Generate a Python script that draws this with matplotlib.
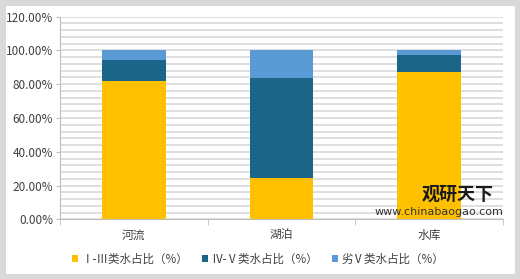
import matplotlib
matplotlib.use("Agg")
import matplotlib.pyplot as plt
from matplotlib.patches import Rectangle
import numpy as np

plt.rcParams['font.family'] = ['Noto Sans CJK SC', 'DejaVu Sans']

categories = ['河流', '湖泊', '水库']
series_names = ['Ⅰ-Ⅲ类水占比（%）', 'Ⅳ-Ⅴ类水占比（%）', '劣Ⅴ类水占比（%）']
s1 = [81.9, 24.7, 87.5]
s2 = [12.4, 59.2, 9.7]
s3 = [5.7, 16.1, 2.8]
colors = ['#FFC000', '#1B6589', '#5B9BD5']
yticks = [0, 20, 40, 60, 80, 100, 120]

W, H = 520, 279
fig = plt.figure(figsize=(W/100, H/100), dpi=100)
fig.patches.append(Rectangle((0, 0), 1, 1, transform=fig.transFigure,
                             facecolor='white', edgecolor='#D9D9D9', linewidth=8, zorder=-10))

ax = fig.add_axes([60/W, 1-219.3/H, (503-60)/W, (219.3-16.7)/H])
x = np.arange(len(categories))
bw = 0.43
b1 = ax.bar(x, s1, bw, color=colors[0], label=series_names[0], zorder=3)
b2 = ax.bar(x, s2, bw, bottom=s1, color=colors[1], label=series_names[1], zorder=3)
b3 = ax.bar(x, s3, bw, bottom=np.array(s1)+np.array(s2), color=colors[2], label=series_names[2], zorder=3)

ax.set_xlim(-0.5, 2.5)
ax.set_ylim(0, 120)
ax.set_yticks(yticks)
ax.set_yticklabels([f'{v:.2f}%' for v in yticks], fontsize=8.5, color='#404040')
ax.set_yticks(np.arange(0, 121, 4), minor=True)
ax.grid(axis='y', which='both', color='#D9D9D9', linewidth=1.2, zorder=0)
ax.set_xticks(x)
ax.set_xticklabels(categories, fontsize=8.5, color='#404040')
ax.tick_params(axis='x', length=0, pad=7)
ax.set_xticks([-0.5, 0.5, 1.5, 2.5], minor=True)
ax.tick_params(axis='x', which='minor', length=4, color='#BFBFBF')
ax.tick_params(axis='y', which='major', length=3, color='#BFBFBF', pad=2)
ax.tick_params(axis='y', which='minor', length=0)
for s in ['top', 'right']:
    ax.spines[s].set_visible(False)
ax.spines['left'].set_color('#BFBFBF')
ax.spines['bottom'].set_color('#BFBFBF')

leg = fig.legend(handles=[b1, b2, b3], labels=series_names, loc='center',
                 bbox_to_anchor=(258/W, 1-259/H), ncol=3, frameon=False,
                 fontsize=8.3, handlelength=0.5, handleheight=0.5,
                 columnspacing=1.2, handletextpad=0.3)
for t in leg.get_texts():
    t.set_color('#404040')

fig.text(458/W, 1-194/H, '观研天下', fontsize=13, fontweight='bold', color='#1a1a1a',
         ha='center', va='center')
fig.text(439/W, 1-212/H, 'www.chinabaogao.com', fontsize=8, color='#333333',
         ha='center', va='center', family='DejaVu Sans')

fig.savefig('out.png', dpi=100)
